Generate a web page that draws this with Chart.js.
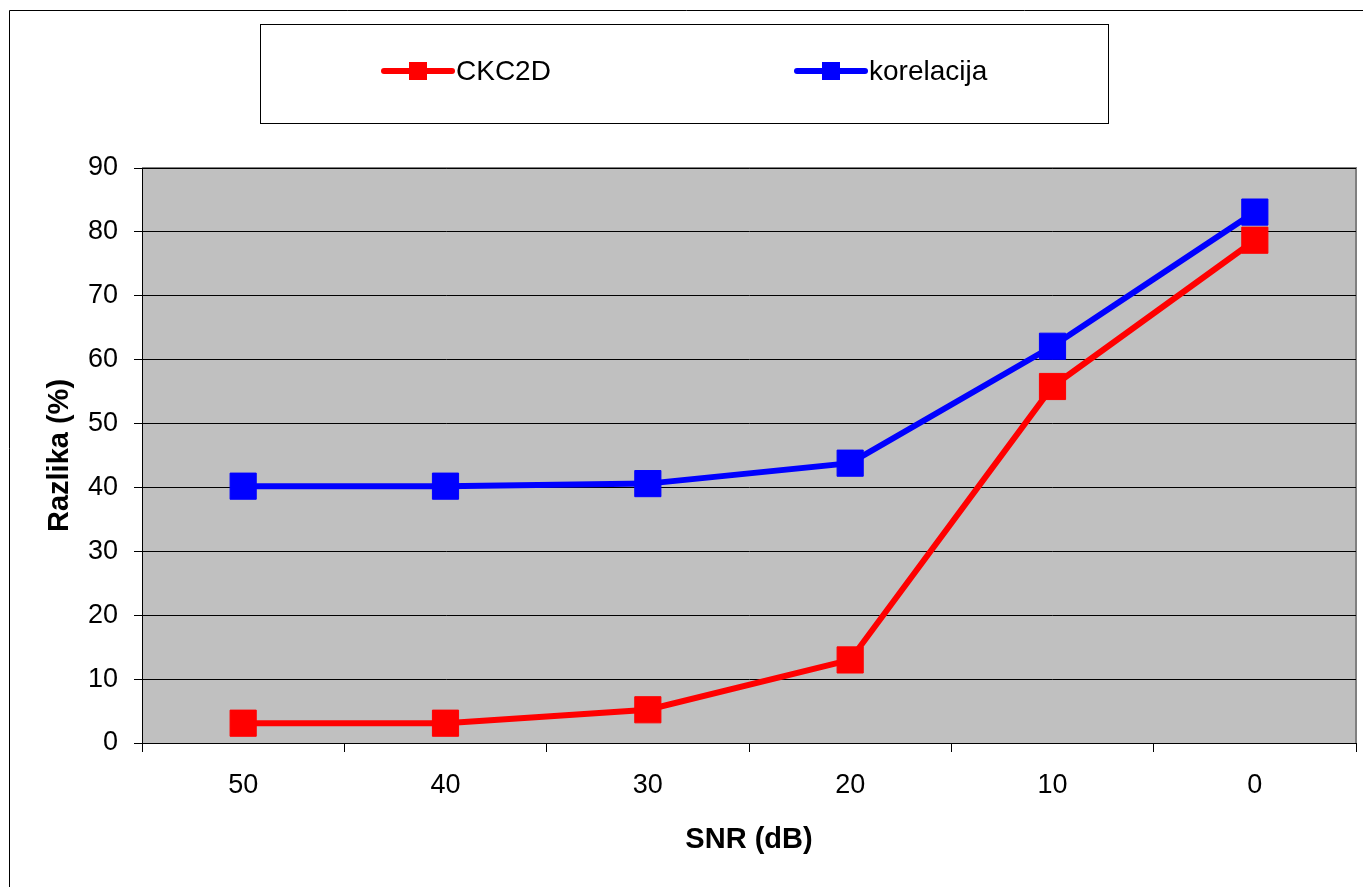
<!DOCTYPE html>
<html>
<head>
<meta charset="utf-8">
<title>Razlika vs SNR</title>
<script src="https://cdn.jsdelivr.net/npm/chart.js@4.4.0/dist/chart.umd.min.js"></script>
<style>
  html, body { margin: 0; padding: 0; background: #fff; }
  #wrap { width: 1363px; height: 887px; position: relative; }
</style>
</head>
<body>
<div id="wrap"><canvas id="snr-chart"></canvas></div>
<script>
  // Data
  var snrLabels = ["50", "40", "30", "20", "10", "0"];
  var ckc2dValues = [3.1, 3.1, 5.2, 13.0, 55.8, 78.7];
  var korelacijaValues = [40.2, 40.2, 40.6, 43.8, 62.1, 83.1];
  var yTicks = [0, 10, 20, 30, 40, 50, 60, 70, 80, 90];

  var FONT = "'Liberation Sans', Arial, sans-serif";
  Chart.defaults.font.family = FONT;
  Chart.defaults.color = "#000000";

  // Grey plot area, outer frame and legend box
  var framePlugin = {
    id: "frame",
    beforeDraw: function (chart) {
      var c = chart.ctx, a = chart.chartArea;
      c.save();
      c.fillStyle = "#ffffff";
      c.fillRect(0, 0, chart.width, chart.height);
      c.fillStyle = "#c0c0c0";
      c.fillRect(a.left, a.top, a.right - a.left, a.bottom - a.top);
      c.strokeStyle = "#808080";
      c.lineWidth = 2;
      c.beginPath();
      c.moveTo(a.left, a.top);
      c.lineTo(a.right, a.top);
      c.lineTo(a.right, a.bottom);
      c.stroke();
      // outer frame
      c.strokeStyle = "#000000";
      c.lineWidth = 1;
      c.beginPath();
      c.moveTo(9.5, chart.height);
      c.lineTo(9.5, 10.5);
      c.lineTo(chart.width, 10.5);
      c.stroke();
      c.restore();
    },
    afterDraw: function (chart) {
      var c = chart.ctx;
      c.save();
      c.strokeStyle = "#000000";
      c.lineWidth = 1;
      c.strokeRect(260.5, 24.5, 848, 99);
      var items = [
        { x: 384, ds: chart.data.datasets[0] },
        { x: 797, ds: chart.data.datasets[1] }
      ];
      items.forEach(function (it) {
        var y = 71;
        c.strokeStyle = it.ds.borderColor;
        c.lineWidth = 6;
        c.lineCap = "round";
        c.beginPath();
        c.moveTo(it.x, y);
        c.lineTo(it.x + 68, y);
        c.stroke();
        c.fillStyle = it.ds.backgroundColor;
        c.fillRect(it.x + 25, y - 9, 18, 18);
        c.fillStyle = "#000000";
        c.font = "28px " + FONT;
        c.textAlign = "left";
        c.textBaseline = "middle";
        c.fillText(it.ds.label, it.x + 72, y + 1);
      });
      c.restore();
    }
  };

  var ctx = document.getElementById("snr-chart");
  var myChart = new Chart(ctx.getContext("2d"), {
    type: "line",
    data: {
      labels: snrLabels,
      datasets: [
        {
          label: "CKC2D",
          data: ckc2dValues,
          borderColor: "#ff0000",
          backgroundColor: "#ff0000",
          borderWidth: 6,
          pointStyle: "rect",
          pointRadius: 18.5,
          pointBorderWidth: 1,
          pointHoverRadius: 18.5,
          tension: 0
        },
        {
          label: "korelacija",
          data: korelacijaValues,
          borderColor: "#0000ff",
          backgroundColor: "#0000ff",
          borderWidth: 6,
          pointStyle: "rect",
          pointRadius: 18.5,
          pointBorderWidth: 1,
          pointHoverRadius: 18.5,
          tension: 0
        }
      ]
    },
    options: {
      responsive: true,
      maintainAspectRatio: false,
      animation: false,
      layout: {
        autoPadding: false,
        padding: { top: 168, right: 7, bottom: 0, left: 0 }
      },
      plugins: {
        legend: { display: false },
        tooltip: { enabled: false }
      },
      scales: {
        x: {
          offset: true,
          grid: {
            offset: true,
            drawOnChartArea: false,
            color: "#000000",
            tickLength: 9,
            tickColor: "#000000"
          },
          border: { color: "#000000", width: 1 },
          ticks: { font: { size: 27 }, padding: 17, color: "#000000", maxRotation: 0 },
          title: {
            display: true,
            text: "SNR (dB)",
            font: { size: 29, weight: "bold" },
            padding: { top: 0, bottom: 30 }
          },
          afterFit: function (scale) {
            scale.height = 144;
            scale.paddingLeft = 0;
            scale.paddingRight = 0;
          }
        },
        y: {
          min: 0,
          max: 90,
          afterBuildTicks: function (scale) {
            scale.ticks = yTicks.map(function (v) { return { value: v }; });
          },
          grid: {
            color: "#000000",
            lineWidth: 1,
            tickLength: 8,
            tickColor: "#000000"
          },
          border: { color: "#000000", width: 1 },
          ticks: { font: { size: 27 }, padding: 16, color: "#000000" },
          title: {
            display: true,
            text: "Razlika (%)",
            font: { size: 29, weight: "bold" },
            padding: { top: 43, bottom: 0 }
          },
          afterFit: function (scale) { scale.width = 142; }
        }
      }
    },
    plugins: [framePlugin]
  });
</script>
</body>
</html>
